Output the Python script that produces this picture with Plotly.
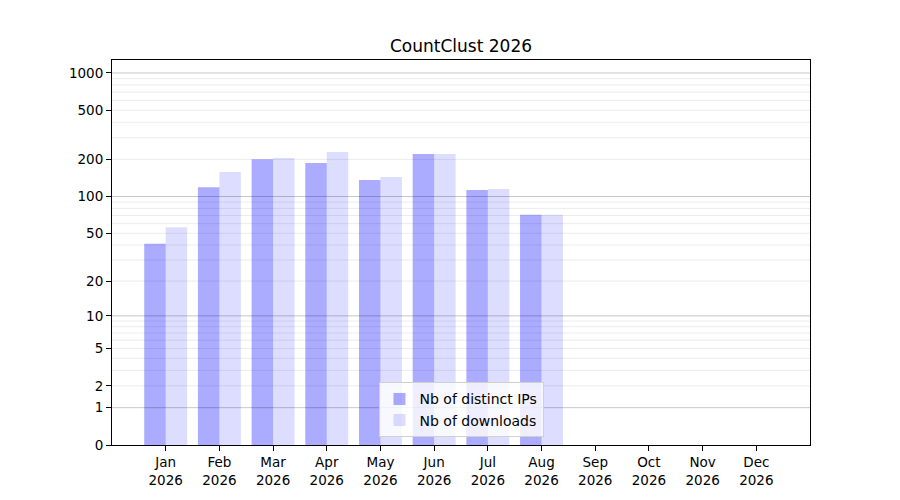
import numpy as np
import plotly.graph_objects as go

months = ['Jan', 'Feb', 'Mar', 'Apr', 'May', 'Jun', 'Jul', 'Aug', 'Sep', 'Oct', 'Nov', 'Dec']
year = '2026'
distinct_ips = [41, 119, 201, 187, 136, 221, 113, 71, 0, 0, 0, 0]
downloads = [56, 158, 205, 230, 144, 221, 115, 71, 0, 0, 0, 0]
y_ticks = [0, 1, 2, 5, 10, 20, 50, 100, 200, 500, 1000]

labels = [m + '<br>' + year for m in months]

# symlog-like scale: log10(1 + v), drawn on a log axis of (1 + v)
def shift(vals):
    return [v + 1 for v in vals]

fig = go.Figure()
fig.add_trace(go.Bar(x=labels, y=shift(distinct_ips), name='Nb of distinct IPs',
                     marker=dict(color='rgba(0,0,255,0.33)', line=dict(width=0))))
fig.add_trace(go.Bar(x=labels, y=shift(downloads), name='Nb of downloads',
                     marker=dict(color='rgba(0,0,255,0.135)', line=dict(width=0))))

# light grid at 2..9 of every decade, darker one at the decades
minor = [m * 10 ** d for d in range(0, 3) for m in range(2, 10)]
for v in minor:
    fig.add_hline(y=v + 1, line=dict(color='#ececec', width=1), layer='below')
for v in [1, 10, 100, 1000]:
    fig.add_hline(y=v + 1, line=dict(color='rgba(0,0,0,0.22)', width=1), layer='above')

# page body has an 8px margin, so margins are shifted to compensate
fig.update_layout(
    width=900, height=500,
    paper_bgcolor='white', plot_bgcolor='white',
    margin=dict(l=104, r=98, t=52, b=63),
    font=dict(family='DejaVu Sans', size=13.5, color='black'),
    title=dict(text='CountClust 2026', x=(461 - 8) / 900, xanchor='center', y=1 - 38 / 500,
               yanchor='middle', font=dict(size=17)),
    barmode='group', bargap=0.2, bargroupgap=0,
    showlegend=True,
    legend=dict(x=0.5, xanchor='center', y=0.02, yanchor='bottom',
                bgcolor='rgba(255,255,255,0.8)', bordercolor='#d0d0d0', borderwidth=1,
                font=dict(size=14), tracegroupgap=0),
    xaxis=dict(type='category', range=[-1, 12], showgrid=False,
               showline=True, mirror=True, linecolor='black', linewidth=1,
               ticks='outside', ticklen=5, tickcolor='black'),
    yaxis=dict(type='log', range=[0, np.log10(1274)], showgrid=False,
               tickvals=shift(y_ticks), ticktext=[str(t) for t in y_ticks],
               showline=True, mirror=True, linecolor='black', linewidth=1,
               ticks='outside', ticklen=5, tickcolor='black', zeroline=False),
)

fig.write_html("out.html")
